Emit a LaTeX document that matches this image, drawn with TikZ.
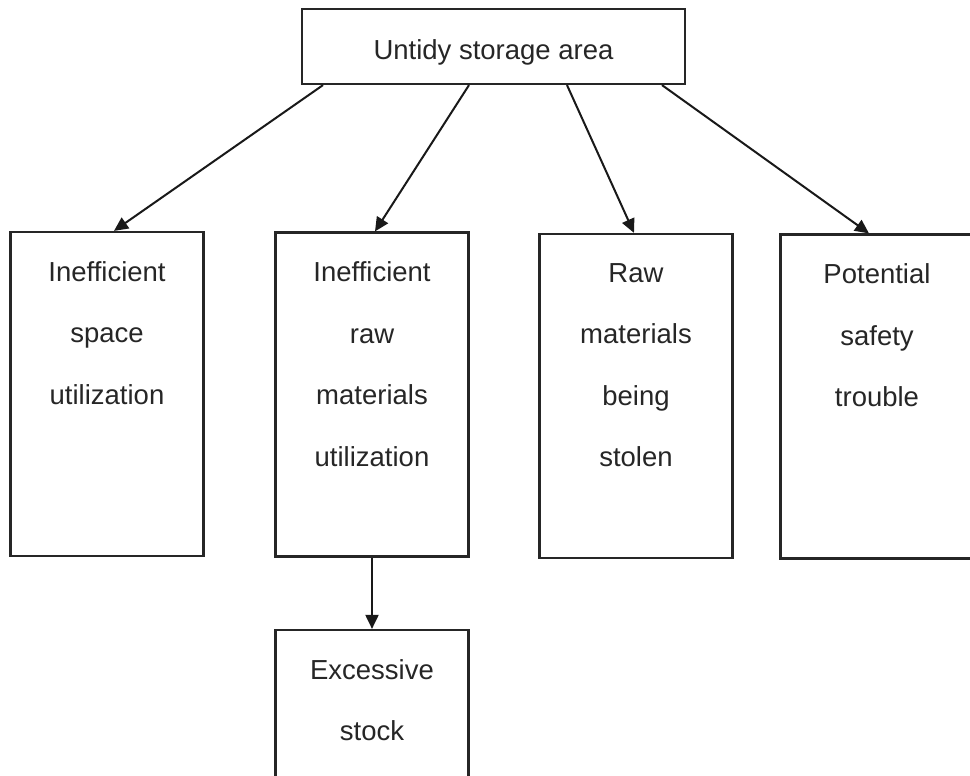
\documentclass[tikz,border=0pt]{standalone}
\usepackage{fontspec}
\setmainfont{Liberation Sans}
\usetikzlibrary{arrows.meta}

\begin{document}
\begin{tikzpicture}[x=1pt, y=-1pt,
    box/.style={draw=black!85, line width=2.2pt, minimum width=193pt, minimum height=324pt, inner sep=0pt},
    txt/.style={anchor=north, inner sep=0pt, align=center, text=black!85, font=\fontsize{27.5}{61.5}\selectfont},
    arr/.style={draw=black!90, line width=2pt, -{Triangle[length=14pt, width=13pt]}}]
\useasboundingbox (0,0) rectangle (970,776);
\clip (0,0) rectangle (970,776);
% nodes

\node[box, minimum width=383pt, minimum height=75pt, text height=27pt, text depth=0pt,
      text=black!85, font=\fontsize{27.5}{33}\selectfont] (untidy) at (493.5,46.5) {Untidy storage area};

\node[box] (space)  at (107,394)   {};
\node[box] (rawuse) at (372,394.5) {};
\node[box] (stolen) at (636,396)   {};
\node[box] (safety) at (877,396.5) {};
\node[box, minimum height=200pt] (stock) at (372,730) {};

\node[txt] (space-t)  at ([yshift=-30pt]space.north)  {Inefficient\\space\\utilization};
\node[txt] (rawuse-t) at ([yshift=-30pt]rawuse.north) {Inefficient\\raw\\materials\\utilization};
\node[txt] (stolen-t) at ([yshift=-30pt]stolen.north) {Raw\\materials\\being\\stolen};
\node[txt] (safety-t) at ([yshift=-30pt]safety.north) {Potential\\safety\\trouble};
\node[txt] (stock-t)  at ([yshift=-30pt]stock.north)  {Excessive\\stock};

% arrows
\draw[arr] ([xshift=-170.5pt]untidy.south) -- ([xshift=7pt]space.north);
\draw[arr] ([xshift=-24.5pt]untidy.south)  -- ([xshift=3pt]rawuse.north);
\draw[arr] ([xshift=73.5pt]untidy.south)   -- ([xshift=-2pt]stolen.north);
\draw[arr] ([xshift=168.5pt]untidy.south)  -- ([xshift=-8pt]safety.north);
\draw[arr] (rawuse.south) -- (stock.north);
\end{tikzpicture}
\end{document}
